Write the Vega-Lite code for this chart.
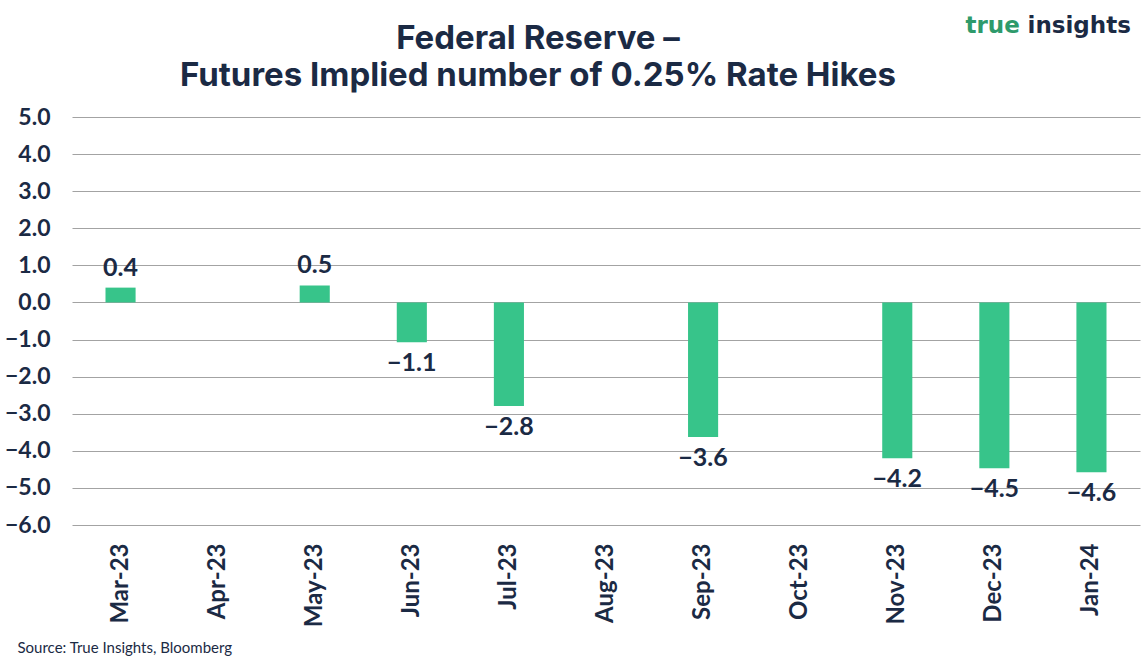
{
  "$schema": "https://vega.github.io/schema/vega-lite/v6.json",
  "width": 1068,
  "height": 408,
  "autosize": {"type": "none"},
  "padding": {"left": 72, "top": 117, "right": 6, "bottom": 144},
  "background": "white",
  "config": {
    "font": "Lato",
    "view": {"stroke": null}
  },
  "title": {
    "text": ["Federal Reserve –", "Futures Implied number of 0.25% Rate Hikes"],
    "font": "Inter",
    "fontSize": 33,
    "fontWeight": "bold",
    "color": "#1b2a44",
    "anchor": "middle",
    "dx": -68,
    "dy": 93,
    "lineHeight": 37,
    "offset": 14
  },
  "data": {
    "values": [
      {"month": "Mar-23", "value": 0.4},
      {"month": "Apr-23", "value": null},
      {"month": "May-23", "value": 0.46},
      {"month": "Jun-23", "value": -1.07},
      {"month": "Jul-23", "value": -2.79},
      {"month": "Aug-23", "value": null},
      {"month": "Sep-23", "value": -3.63},
      {"month": "Oct-23", "value": null},
      {"month": "Nov-23", "value": -4.2},
      {"month": "Dec-23", "value": -4.47},
      {"month": "Jan-24", "value": -4.58}
    ]
  },
  "encoding": {
    "x": {
      "field": "month",
      "type": "ordinal",
      "sort": null,
      "scale": {
        "domain": ["Mar-23", "Apr-23", "May-23", "Jun-23", "Jul-23", "Aug-23", "Sep-23", "Oct-23", "Nov-23", "Dec-23", "Jan-24"],
        "paddingInner": 0.69,
        "paddingOuter": 0.345
      },
      "axis": {
        "title": "Source: True Insights, Bloomberg",
        "titleFont": "Lato",
        "titleFontSize": 15,
        "titleFontWeight": "normal",
        "titleColor": "#1b2a44",
        "titleAnchor": "start",
        "titleAlign": "left",
        "titleBaseline": "alphabetic",
        "titleX": -55,
        "titleY": 127,
        "labelAngle": -90,
        "labelFont": "Lato",
        "labelFontSize": 24,
        "labelFontWeight": "bold",
        "labelColor": "#1b2a44",
        "labelPadding": 18,
        "ticks": false,
        "domain": false,
        "grid": false
      }
    }
  },
  "layer": [
    {
      "mark": {"type": "bar", "color": "#37c48a"},
      "encoding": {
        "y": {
          "field": "value",
          "type": "quantitative",
          "scale": {"domain": [-6, 5], "nice": false, "zero": true},
          "axis": {
            "values": [-6, -5, -4, -3, -2, -1, 0, 1, 2, 3, 4, 5],
            "format": ".1f",
            "labelFont": "Lato",
            "labelFontSize": 23,
            "labelFontWeight": "bold",
            "labelColor": "#1b2a44",
            "labelPadding": 22,
            "ticks": false,
            "domain": false,
            "grid": true,
            "gridColor": "#a3a3a3",
            "gridWidth": 1,
            "title": "true",
            "titleFont": "DejaVu Sans",
            "titleFontSize": 23,
            "titleFontWeight": "bold",
            "titleColor": "#2e9a6b",
            "titleAngle": 0,
            "titleAlign": "left",
            "titleBaseline": "alphabetic",
            "titleX": 893,
            "titleY": -85
          }
        }
      }
    },
    {
      "mark": {"type": "rule", "color": "#1b2a44", "strokeWidth": 1.5},
      "encoding": {
        "y": {
          "datum": 0,
          "type": "quantitative",
          "axis": {
            "orient": "right",
            "labels": false,
            "ticks": false,
            "domain": false,
            "grid": false,
            "title": "insights",
            "titleFont": "DejaVu Sans",
            "titleFontSize": 23,
            "titleFontWeight": "bold",
            "titleColor": "#1b2a44",
            "titleAngle": 0,
            "titleAlign": "left",
            "titleBaseline": "alphabetic",
            "titleX": -113,
            "titleY": -85
          }
        }
      }
    },
    {
      "transform": [{"filter": "datum.value != null && datum.value > 0"}],
      "mark": {"type": "text", "baseline": "alphabetic", "dy": -12, "font": "Lato", "fontSize": 25, "fontWeight": "bold", "color": "#1b2a44"},
      "encoding": {
        "y": {"field": "value", "type": "quantitative", "axis": null},
        "text": {"field": "value", "type": "quantitative", "format": ".1f"}
      }
    },
    {
      "transform": [{"filter": "datum.value != null && datum.value < 0"}],
      "mark": {"type": "text", "baseline": "top", "dy": 9, "font": "Lato", "fontSize": 25, "fontWeight": "bold", "color": "#1b2a44"},
      "encoding": {
        "y": {"field": "value", "type": "quantitative", "axis": null},
        "text": {"field": "value", "type": "quantitative", "format": ".1f"}
      }
    }
  ],
  "resolve": {"axis": {"y": "independent"}}
}
